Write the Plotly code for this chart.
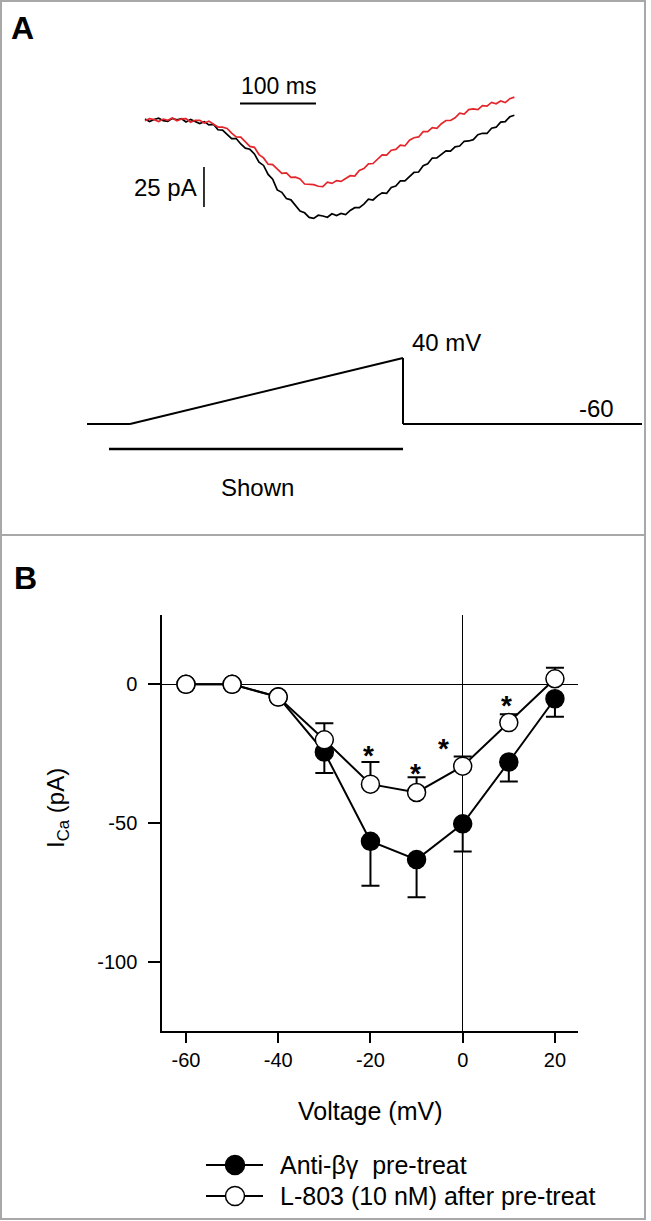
import plotly.graph_objects as go

# ---------------- data ----------------
# Panel B: I-V relationship
voltage = [-60, -50, -40, -30, -20, -10, 0, 10, 20]
anti_bg = [0, 0, -4.5, -24.4, -56.6, -63.2, -50.3, -28.0, -5.2]
anti_bg_sem = [0, 0, 0, 7.6, 16.0, 13.6, 10.0, 7.0, 6.5]
l803 = [0, 0, -4.6, -20.0, -36.0, -39.0, -29.5, -13.8, 2.0]
l803_sem = [0, 0, 0, 6.0, 8.0, 5.5, 3.5, 3.0, 4.0]
sig_v = [-20.4, -10.3, -4.2, 9.5]
sig_i = [-23.7, -30.4, -21.4, -6.0]

series_names = ["Anti-\u03b2\u03b3\u00a0 pre-treat", "L-803 (10 nM) after pre-treat"]
x_ticks = [-60, -40, -20, 0, 20]
y_ticks = [0, -50, -100]

# Panel A: ramp currents (ms, pA)
t_ms = list(range(0, 487, 6))
i_black = [0.6, -0.9, 0.3, 1.1, -0.4, -0.9, 1.0, 0.15, 0.8, -1.2,
           0.4, -0.9, -2.2, -1.0, -3.1, -2.7, -6.1, -6.3, -8.9, -11.6,
           -11.6, -15.0, -17.6, -18.3, -21.2, -26.3, -28.4, -34.0, -37.0, -43.7,
           -45.2, -49.1, -49.9, -53.2, -56.9, -58.0, -60.9, -61.5, -59.5, -60.0,
           -60.8, -58.6, -59.7, -58.4, -59.1, -56.5, -54.8, -54.8, -52.6, -49.5,
           -50.0, -47.4, -45.5, -45.8, -42.2, -41.3, -38.1, -38.1, -35.5, -32.7,
           -32.5, -28.6, -27.4, -23.8, -23.7, -21.3, -19.3, -19.5, -16.8, -16.3,
           -13.3, -13.1, -12.3, -9.2, -8.3, -8.4, -5.1, -4.5, -1.3, -1.0,
           2.0, 3.0]
i_red = [-0.5, 0.8, 0.2, -1.0, 0.6, -0.2, 1.3, -0.5, 0.7, 0.9,
         -1.4, -0.2, -0.2, -1.9, -0.7, -2.3, -4.4, -4.5, -5.3, -8.2,
         -10.6, -10.7, -13.5, -16.5, -17.1, -21.6, -23.7, -27.6, -27.9, -30.6,
         -33.3, -33.0, -35.8, -35.7, -36.8, -40.0, -40.0, -40.4, -41.4, -41.6,
         -38.8, -39.6, -37.9, -38.4, -36.6, -34.8, -35.0, -31.5, -30.3, -27.4,
         -27.2, -24.4, -21.8, -22.0, -18.9, -18.4, -15.7, -16.2, -12.6, -11.1,
         -10.6, -7.3, -7.3, -4.8, -5.2, -2.3, -0.3, -0.3, 1.4, 4.3,
         3.7, 6.5, 6.9, 6.5, 9.0, 8.7, 11.0, 10.1, 11.9, 10.9,
         13.3, 14.3]
scale_t_ms = 100
scale_i_pa = 25

# ---------------- layout helpers ----------------
W, H = 651, 1221
FONT = "Arial, Liberation Sans, sans-serif"


def px(x):
    return x / W


def py(y):
    return 1 - y / H


fig = go.Figure()

# Panel A traces (axes x2/y2)
fig.add_trace(go.Scatter(x=t_ms, y=i_black, mode="lines", xaxis="x2", yaxis="y2",
                         line=dict(color="black", width=1.7), showlegend=False,
                         hoverinfo="skip"))
fig.add_trace(go.Scatter(x=t_ms, y=i_red, mode="lines", xaxis="x2", yaxis="y2",
                         line=dict(color="#e3262b", width=1.7), showlegend=False,
                         hoverinfo="skip"))

# scale bars in data units
sb_t0 = 125
sb_y = 10.3
fig.add_trace(go.Scatter(x=[sb_t0, sb_t0 + scale_t_ms], y=[sb_y, sb_y], mode="lines",
                         xaxis="x2", yaxis="y2", line=dict(color="black", width=2),
                         showlegend=False, hoverinfo="skip"))
sv_t = 77.6
sv_top = -29.4
fig.add_trace(go.Scatter(x=[sv_t, sv_t], y=[sv_top, sv_top - scale_i_pa], mode="lines",
                         xaxis="x2", yaxis="y2", line=dict(color="black", width=1.6),
                         showlegend=False, hoverinfo="skip"))

# Panel B traces
fig.add_trace(go.Scatter(
    x=voltage, y=anti_bg, mode="lines+markers", name=series_names[0],
    line=dict(color="black", width=2),
    marker=dict(symbol="circle", size=18, color="black", line=dict(color="black", width=1.5)),
    error_y=dict(type="data", symmetric=False, array=[0] * len(anti_bg_sem),
                 arrayminus=anti_bg_sem, color="black", thickness=2, width=9),
    showlegend=False))
fig.add_trace(go.Scatter(
    x=voltage, y=l803, mode="lines+markers", name=series_names[1],
    line=dict(color="black", width=2),
    marker=dict(symbol="circle", size=18, color="white", line=dict(color="black", width=1.5)),
    error_y=dict(type="data", symmetric=False, array=l803_sem,
                 arrayminus=[0] * len(l803_sem), color="black", thickness=2, width=9),
    showlegend=False))

annotations = []
for v, i in zip(sig_v, sig_i):
    annotations.append(dict(x=v, y=i, xref="x", yref="y", text="<b>*</b>", showarrow=False,
                            font=dict(family=FONT, size=28, color="black"),
                            xanchor="center", yanchor="middle", yshift=-5))


def ann(x, y, text, size=24, xanchor="center", bold=False, angle=0):
    annotations.append(dict(x=px(x), y=py(y), xref="paper", yref="paper",
                            text=f"<b>{text}</b>" if bold else text, showarrow=False,
                            xanchor=xanchor, yanchor="middle", textangle=angle,
                            font=dict(family=FONT, size=size, color="black")))


ann(9, 28, "A", size=32, xanchor="left", bold=True)
ann(12, 578, "B", size=32, xanchor="left", bold=True)
ann(278, 86, "100 ms", size=23)
ann(199, 187, "25 pA", size=24, xanchor="right")
ann(410, 343, "40 mV", size=24, xanchor="left")
ann(616, 408, "-60", size=24, xanchor="right")
ann(257, 488, "Shown", size=24)
ann(57, 808, "I<sub>Ca</sub> (pA)", size=24, angle=-90)
ann(370, 1111, "Voltage (mV)", size=25)
ann(278, 1165, series_names[0], size=25, xanchor="left")
ann(278, 1196, series_names[1], size=25, xanchor="left")

shapes = []


def seg(x0, y0, x1, y1, width=2, color="black"):
    shapes.append(dict(type="line", xref="paper", yref="paper",
                       x0=px(x0), y0=py(y0), x1=px(x1), y1=py(y1),
                       line=dict(color=color, width=width)))


# outer frame and divider
shapes.append(dict(type="rect", xref="paper", yref="paper", x0=px(1), y0=py(1),
                   x1=px(645), y1=py(1219), line=dict(color="#a8a8a8", width=2)))
seg(1, 535, 645, 535, width=2, color="#a8a8a8")

# voltage protocol schematic
seg(87, 424, 130, 424)
seg(130, 424, 403, 358)
seg(403, 358, 403, 424)
seg(403, 424, 642, 424)
seg(109, 449, 403, 449, width=2.5)

# legend samples
for yy, fill in [(1165, "black"), (1196, "white")]:
    seg(206, yy, 263, yy, width=2)
    r = 9.5
    shapes.append(dict(type="circle", xref="paper", yref="paper",
                       x0=px(235 - r), x1=px(235 + r), y0=py(yy + r), y1=py(yy - r),
                       fillcolor=fill, line=dict(color="black", width=1.5)))

# axes geometry
x_left, x_right = 162, 578
y_top, y_bot = 615, 1031

fig.update_layout(
    width=W, height=H, autosize=False,
    margin=dict(l=0, r=0, t=0, b=0),
    paper_bgcolor="white", plot_bgcolor="white",
    font=dict(family=FONT, color="black"),
    showlegend=False,
    xaxis=dict(domain=[px(x_left), px(x_right)], range=[-65.2, 25],
               tickvals=x_ticks, ticktext=[str(v) for v in x_ticks],
               showline=True, linecolor="black", linewidth=1.5,
               ticks="outside", ticklen=10, tickwidth=1.5, tickcolor="black",
               showgrid=False, zeroline=True, zerolinecolor="black", zerolinewidth=1.2,
               tickfont=dict(size=20, family=FONT), anchor="y", fixedrange=True),
    yaxis=dict(domain=[py(y_bot), py(y_top)], range=[-125, 25],
               tickvals=y_ticks, ticktext=[str(v) for v in y_ticks],
               showline=True, linecolor="black", linewidth=1.5,
               ticks="outside", ticklen=12, tickwidth=1.5, tickcolor="black",
               ticklabelstandoff=7,
               showgrid=False, zeroline=True, zerolinecolor="black", zerolinewidth=1.2,
               tickfont=dict(size=20, family=FONT), anchor="x", fixedrange=True),
    xaxis2=dict(domain=[0, 1], range=[(0 - 145) / 0.76, (W - 145) / 0.76],
                visible=False, anchor="y2", fixedrange=True),
    yaxis2=dict(domain=[py(535), 1], range=[(120 - 535) / 1.6, 120 / 1.6],
                visible=False, anchor="x2", fixedrange=True),
    annotations=annotations,
    shapes=shapes,
)

fig.write_html("out.html", config={"displayModeBar": False},
               post_script="document.body.style.margin='0';document.body.style.overflow='hidden';")
